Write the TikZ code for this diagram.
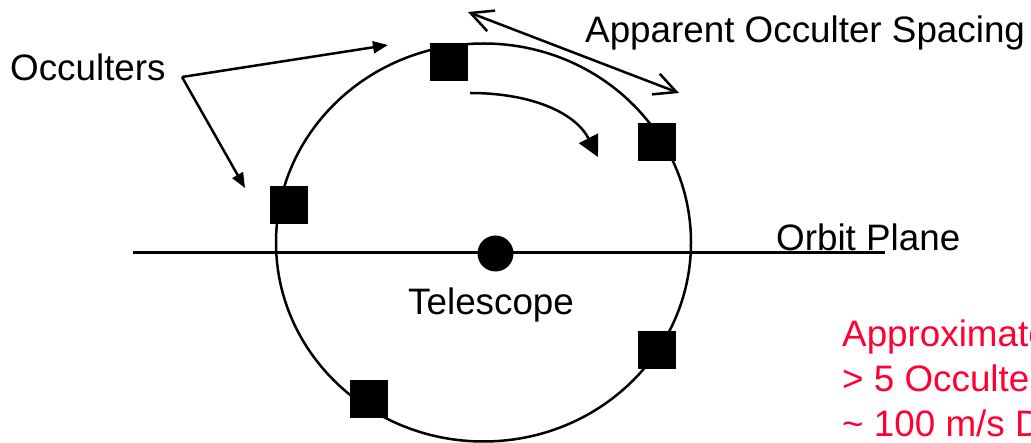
\documentclass[tikz,border=0pt]{standalone}
\usepackage{fontspec}
\setmainfont{Liberation Sans}
\usetikzlibrary{arrows.meta}
\definecolor{occred}{RGB}{255,0,51}
\begin{document}
\begin{tikzpicture}[x=1pt,y=-1pt,
  lbl/.style={inner sep=0pt, anchor=base west, font=\fontsize{36.8}{45}\selectfont},
  occbox/.style={fill=black, minimum size=38pt, inner sep=0pt},
  occline/.style={line width=2.5pt},
  fillhead/.style={-{Triangle[length=15pt,width=12pt]}, line width=2.5pt},
  barbs/.style={{Straight Barb[length=22pt,width=22pt]}-{Straight Barb[length=22pt,width=22pt]}, line width=2.5pt}
]
\useasboundingbox (0,0) rectangle (1031,443);
\clip (0,0) rectangle (1031,443);
\fill[white] (0,0) rectangle (1031,443);

% orbit plane line
\coordinate (pl) at (133,253);
\coordinate (pr) at (885,253);
\draw[line width=3pt] (pl) -- (pr);

% orbit (ellipse)
\draw[occline] (483.5,242.5) ellipse [x radius=207.5, y radius=199];

% telescope
\node[fill=black, circle, minimum size=36pt, inner sep=0pt] (tel) at (495.5,253.5) {};

% occulters
\node[occbox] (o1) at (448.5,62) {};
\node[occbox] (o2) at (657,142) {};
\node[occbox] (o3) at (289,205.5) {};
\node[occbox] (o4) at (657,350) {};
\node[occbox] (o5) at (369,399) {};

% labels
\node[lbl] (occ) at (10,81) {Occulters};
\node[lbl] (telt) at (408,315) {Telescope};
\node[lbl] (orb) at (776,251) {Orbit Plane};
\node[lbl] (app) at (585,43) {Apparent Occulter Spacing};
\node[lbl, text=occred] (r1) at (842,347) {Approximate};
\node[lbl, text=occred] (r2) at (842,392) {> 5 Occulters};
\node[lbl, text=occred] (r3) at (842,437) {\textasciitilde{} 100 m/s D};

% occulter pointer arrows
\coordinate (os) at (182,77);
\coordinate (t1) at (388,45);
\coordinate (t2) at (245,188);
\draw[fillhead] (os) -- (t1);
\draw[fillhead] (os) -- (t2);

% apparent spacing double arrow
\coordinate (sa) at (468,12);
\coordinate (sb) at (679,93);
\draw[barbs] (sa) -- (sb);

% motion arrow
\coordinate (ma) at (470,93);
\coordinate (mb) at (598,157);
\draw[line width=2.5pt, -{Triangle[length=21pt,width=21pt]}] (ma) .. controls (530,93) and (575,112) .. (mb);
\end{tikzpicture}
\end{document}
